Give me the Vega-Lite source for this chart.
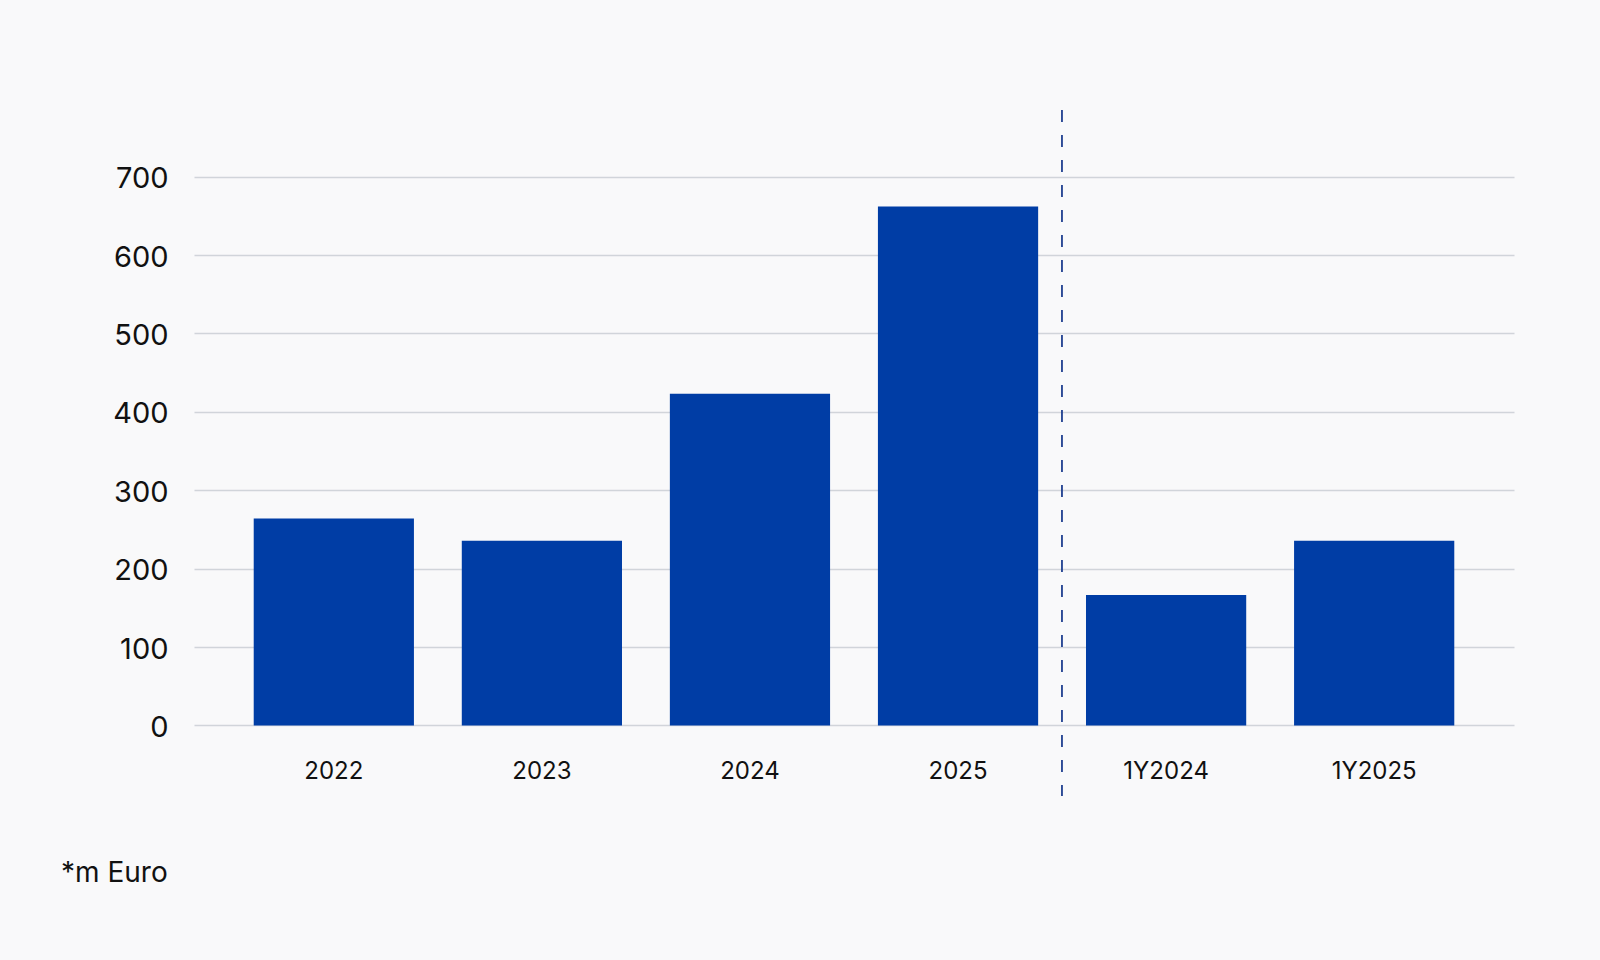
{
  "$schema": "https://vega.github.io/schema/vega-lite/v6.json",
  "width": 1320,
  "height": 686,
  "autosize": {"type": "none"},
  "padding": {"left": 194, "top": 110, "right": 86, "bottom": 164},
  "background": "#f9f9fa",
  "config": {
    "view": {"stroke": null},
    "font": "Inter"
  },
  "title": {
    "text": "*m Euro",
    "orient": "bottom",
    "anchor": "start",
    "frame": "group",
    "dx": -133,
    "offset": 63,
    "fontSize": 28,
    "fontWeight": "normal",
    "color": "#111111",
    "font": "Inter"
  },
  "data": {
    "values": [
      {"period": "2022", "value": 264},
      {"period": "2023", "value": 235.5},
      {"period": "2024", "value": 423},
      {"period": "2025", "value": 662},
      {"period": "1Y2024", "value": 166.5},
      {"period": "1Y2025", "value": 235.5}
    ]
  },
  "encoding": {
    "x": {
      "field": "period",
      "type": "nominal",
      "sort": null,
      "scale": {"paddingInner": 0.23, "paddingOuter": 0.287},
      "axis": null
    }
  },
  "layer": [
    {
      "mark": {"type": "bar", "color": "#003da5"},
      "encoding": {
        "y": {
          "field": "value",
          "type": "quantitative",
          "scale": {"domain": [-90, 785], "nice": false, "zero": false},
          "axis": {
            "values": [0, 100, 200, 300, 400, 500, 600, 700],
            "title": null,
            "domain": false,
            "ticks": false,
            "grid": true,
            "gridColor": "#d1d4da",
            "gridWidth": 1.3,
            "labelFontSize": 29,
            "labelColor": "#111111",
            "labelPadding": 26,
            "labelOffset": 2,
            "labelFont": "Inter"
          }
        },
        "y2": {"datum": 0}
      }
    },
    {
      "mark": {"type": "text", "fontSize": 24, "color": "#111111", "baseline": "middle", "align": "center", "font": "Inter"},
      "encoding": {
        "text": {"field": "period"},
        "y": {"datum": -59}
      }
    },
    {
      "data": {"values": [{"split": "1Y2024"}]},
      "mark": {"type": "rule", "color": "#1f3f8f", "strokeWidth": 1.8, "strokeDash": [12, 13]},
      "encoding": {
        "x": {"field": "split", "type": "nominal", "bandPosition": -0.15},
        "y": {"datum": 785},
        "y2": {"datum": -90}
      }
    }
  ]
}
